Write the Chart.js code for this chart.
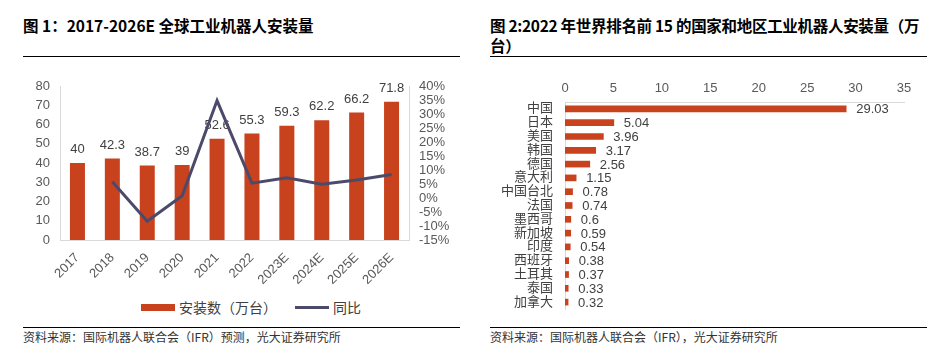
<!DOCTYPE html>
<html>
<head>
<meta charset="utf-8">
<script src="https://cdn.jsdelivr.net/npm/chart.js@4.4.0/dist/chart.umd.min.js"></script>
<style>
  body { margin: 0; width: 940px; height: 353px; background: #fff; position: relative; overflow: hidden;
         font-family: "Liberation Sans", "Noto Sans CJK SC", sans-serif; }
  .title { position: absolute; font-family: "Noto Sans CJK SC", sans-serif; font-weight: bold; font-size: 15.5px;
           line-height: 20px; color: #000; white-space: nowrap; }
  .rule { position: absolute; height: 1px; background: #000; }
  .src { position: absolute; font-family: "Noto Sans CJK SC", sans-serif; font-size: 12px; color: #333; white-space: nowrap; }
  .box { position: absolute; }
  .legend { position: absolute; top: 297px; left: 141px; font-size: 14px; color: #404040; display: flex; align-items: center;
            font-family: "Noto Sans CJK SC", sans-serif; }
  .legend i { display: inline-block; margin-right: 4px; }
</style>
</head>
<body>
<div class="title" style="left:23px;top:15px">图 1：2017-2026E 全球工业机器人安装量</div>
<div class="rule" style="left:23px;top:56px;width:437px"></div>
<div class="box" style="left:20px;top:70px;width:440px;height:222px"><canvas id="c1"></canvas></div>
<div class="legend">
  <i style="width:34px;height:7px;background:#c8421e"></i><span>安装数（万台）</span>
  <i style="width:34px;height:3px;background:#4b4a6b;margin-left:18px"></i><span>同比</span>
</div>
<div class="rule" style="left:23px;top:327px;width:437px"></div>
<div class="src" style="left:23px;top:328px">资料来源：国际机器人联合会（IFR）预测，光大证券研究所</div>

<div class="title" style="left:490px;top:15px;letter-spacing:-0.3px">图 2:2022 年世界排名前 15 的国家和地区工业机器人安装量（万<br>台）</div>
<div class="rule" style="left:490px;top:56px;width:437px"></div>
<div class="box" style="left:490px;top:70px;width:437px;height:245px"><canvas id="c2"></canvas></div>
<div class="rule" style="left:490px;top:327px;width:437px"></div>
<div class="src" style="left:490px;top:328px">资料来源：国际机器人联合会（IFR），光大证券研究所</div>

<script>
// 图1 数据
const years = ['2017', '2018', '2019', '2020', '2021', '2022', '2023E', '2024E', '2025E', '2026E'];
const installs = [40, 42.3, 38.7, 39, 52.6, 55.3, 59.3, 62.2, 66.2, 71.8];
const yoy = [null, 5.8, -8.3, 0.8, 34.8, 5.3, 7.2, 4.9, 6.4, 8.4];

// 图2 数据
const regions = ['中国', '日本', '美国', '韩国', '德国', '意大利', '中国台北', '法国', '墨西哥', '新加坡', '印度', '西班牙', '土耳其', '泰国', '加拿大'];
const units = [29.03, 5.04, 3.96, 3.17, 2.56, 1.15, 0.78, 0.74, 0.6, 0.59, 0.54, 0.38, 0.37, 0.33, 0.32];

const RED = '#c8421e';
const FONT = '"Liberation Sans", "Noto Sans CJK SC", sans-serif';
const tickFont = { family: FONT, size: 13 };
Chart.defaults.color = '#595959';
Chart.defaults.font.family = FONT;

// 纵轴不留额外上下边距
const noPad = (w) => (s) => { s.width = w; s.paddingTop = 0; s.paddingBottom = 0; };

// 柱子数值标签
const valueLabels = {
  id: 'valueLabels',
  afterDatasetDraw(chart, args, opts) {
    if (args.index !== 0) return;
    const ctx = chart.ctx;
    const data = chart.data.datasets[0].data;
    ctx.save();
    ctx.font = '13px ' + FONT;
    ctx.fillStyle = '#404040';
    args.meta.data.forEach((el, i) => {
      if (opts.horizontal) {
        ctx.textAlign = 'left'; ctx.textBaseline = 'middle';
        ctx.fillText(data[i], el.x + 10, el.y + 1);
      } else {
        ctx.textAlign = 'center'; ctx.textBaseline = 'bottom';
        ctx.fillText(data[i], el.x, el.y - 7);
      }
    });
    ctx.restore();
  }
};

new Chart(document.getElementById('c1'), {
  type: 'bar',
  data: {
    labels: years,
    datasets: [
      { label: '安装数（万台）', data: installs, backgroundColor: RED, yAxisID: 'y', order: 1,
        categoryPercentage: 1, barPercentage: 0.43 },
      { type: 'line', label: '同比', data: yoy, yAxisID: 'y1', order: 0, borderColor: '#4b4a6b',
        borderWidth: 3, pointRadius: 0, tension: 0, spanGaps: false },
    ],
  },
  options: {
    responsive: true, maintainAspectRatio: false, animation: false,
    layout: { padding: { top: 16 } },
    plugins: { legend: { display: false }, tooltip: { enabled: false }, valueLabels: { horizontal: false } },
    scales: {
      x: {
        grid: { display: false }, border: { color: '#d9d9d9' },
        ticks: { font: tickFont, minRotation: 45, maxRotation: 45, padding: 2, autoSkip: false },
        afterFit: (s) => { s.height = 52; },
      },
      y: {
        min: 0, max: 80, ticks: { stepSize: 10, font: tickFont, padding: 10, autoSkip: false },
        grid: { display: false, drawTicks: false }, border: { color: '#d9d9d9' },
        afterFit: noPad(40),
      },
      y1: {
        position: 'right', min: -15, max: 40,
        ticks: { stepSize: 5, font: tickFont, padding: 10, autoSkip: false, callback: (v) => v + '%' },
        grid: { display: false, drawTicks: false }, border: { color: '#d9d9d9' },
        afterFit: noPad(51),
      },
    },
  },
  plugins: [valueLabels],
});

new Chart(document.getElementById('c2'), {
  type: 'bar',
  data: {
    labels: regions,
    datasets: [{ label: '安装量', data: units, backgroundColor: RED, barThickness: 6 }],
  },
  options: {
    indexAxis: 'y', responsive: true, maintainAspectRatio: false, animation: false,
    layout: { padding: { top: 8, right: 23, bottom: 6 } },
    plugins: { legend: { display: false }, tooltip: { enabled: false }, valueLabels: { horizontal: true } },
    scales: {
      x: {
        position: 'top', min: 0, max: 35,
        ticks: { stepSize: 5, font: tickFont, padding: 6 },
        grid: { display: false, drawTicks: false }, border: { color: '#d9d9d9' },
        afterFit: (s) => { s.height = 24; },
      },
      y: {
        ticks: { font: tickFont, padding: 12, color: '#404040', autoSkip: false },
        grid: { display: false, drawTicks: false }, border: { color: '#d9d9d9' },
        afterFit: noPad(75),
      },
    },
  },
  plugins: [valueLabels],
});
</script>
</body>
</html>
